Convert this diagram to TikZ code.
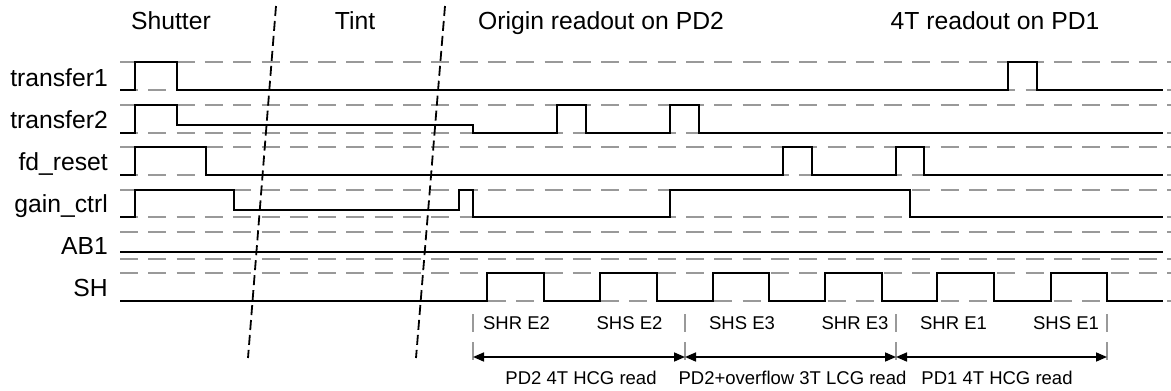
\documentclass[tikz,border=0pt]{standalone}
\usepackage{fontspec}
\setmainfont{Liberation Sans}
\usetikzlibrary{arrows.meta}
\begin{document}
\begin{tikzpicture}[x=1pt,y=-1pt,
  grid/.style={draw=gray!80, line width=2pt, dash pattern=on 18pt off 10.3pt},
  sig/.style={draw=black, line width=2pt, line join=miter},
  sep/.style={draw=black, line width=1.8pt, dash pattern=on 10pt off 5pt},
  tickline/.style={draw=gray!80, line width=1.6pt, dash pattern=on 18pt off 10pt},
  span/.style={draw=black, line width=1.6pt, {Triangle[length=11pt,width=9pt]}-{Triangle[length=11pt,width=9pt]}},
  big/.style={inner sep=0pt, font=\fontsize{24.7}{28}\selectfont},
  small/.style={inner sep=0pt, font=\fontsize{18.5}{22}\selectfont},
  lbl/.style={big, anchor=base east},
  head/.style={big, anchor=base},
  evt/.style={small, anchor=base},
]
\useasboundingbox (0,0) rectangle (1171,391);

% gray reference levels
\foreach \yy in {62,90,105,133,147,175,190,217,232,259,273,301}
  \draw[grid] (120,\yy) -- (1171,\yy);

% signal labels
\node[lbl] (l1) at (108,86) {transfer1};
\node[lbl] (l2) at (108,128) {transfer2};
\node[lbl] (l3) at (108,170) {fd\_reset};
\node[lbl] (l4) at (108,212) {gain\_ctrl};
\node[lbl] (l5) at (108,254) {AB1};
\node[lbl] (l6) at (108,296) {SH};

% phase headings
\node[head] (h1) at (171,29) {Shutter};
\node[head] (h2) at (355,29) {Tint};
\node[head] (h3) at (601,29) {Origin readout on PD2};
\node[head] (h4) at (995,29) {4T readout on PD1};

% waveforms
\draw[sig] (120,90) -- (135,90) -- (135,62) -- (177,62) -- (177,90) -- (1008,90)
  -- (1008,62) -- (1037,62) -- (1037,90) -- (1163,90);
\draw[sig] (120,133) -- (135,133) -- (135,105) -- (177,105) -- (177,125) -- (473,125)
  -- (473,133) -- (557,133) -- (557,105) -- (586,105) -- (586,133) -- (670,133)
  -- (670,105) -- (699,105) -- (699,133) -- (1163,133);
\draw[sig] (120,175) -- (135,175) -- (135,147) -- (206,147) -- (206,175) -- (783,175)
  -- (783,147) -- (812,147) -- (812,175) -- (896,175) -- (896,147) -- (924,147)
  -- (924,175) -- (1163,175);
\draw[sig] (120,217) -- (135,217) -- (135,190) -- (234,190) -- (234,210) -- (459,210)
  -- (459,190) -- (473,190) -- (473,217) -- (670,217) -- (670,190) -- (910,190)
  -- (910,217) -- (1163,217);
\draw[sig] (120,252) -- (1163,252);
\draw[sig] (120,301) -- (487,301) -- (487,273) -- (544,273) -- (544,301) -- (600,301)
  -- (600,273) -- (657,273) -- (657,301) -- (713,301) -- (713,273) -- (769,273)
  -- (769,301) -- (825,301) -- (825,273) -- (882,273) -- (882,301) -- (937,301)
  -- (937,273) -- (994,273) -- (994,301) -- (1051,301) -- (1051,273) -- (1107,273)
  -- (1107,301) -- (1163,301);

% phase separators
\coordinate (s1a) at (276,6);
\coordinate (s1b) at (248,358);
\coordinate (s2a) at (445,6);
\coordinate (s2b) at (416,358);
\draw[sep] (s1a) -- (s1b);
\draw[sep] (s2a) -- (s2b);

% readout windows
\foreach \i/\xx in {1/473,2/685,3/896,4/1107} {
  \coordinate (ta\i) at (\xx,314);
  \coordinate (tb\i) at (\xx,360);
  \coordinate (t\i) at (\xx,357);
  \draw[tickline] (ta\i) -- (tb\i);
}
\draw[span] (t1) -- (t2);
\draw[span] (t2) -- (t3);
\draw[span] (t3) -- (t4);

% sample labels
\node[evt] (e1) at (516.5,329) {SHR E2};
\node[evt] (e2) at (629.5,329) {SHS E2};
\node[evt] (e3) at (742,329) {SHS E3};
\node[evt] (e4) at (855,329) {SHR E3};
\node[evt] (e5) at (953.5,329) {SHR E1};
\node[evt] (e6) at (1066,329) {SHS E1};

% read labels
\node[evt] (r1) at (581,384) {PD2 4T HCG read};
\node[evt] (r2) at (792.5,384) {PD2+overflow 3T LCG read};
\node[evt] (r3) at (997,384) {PD1 4T HCG read};
\end{tikzpicture}
\end{document}
